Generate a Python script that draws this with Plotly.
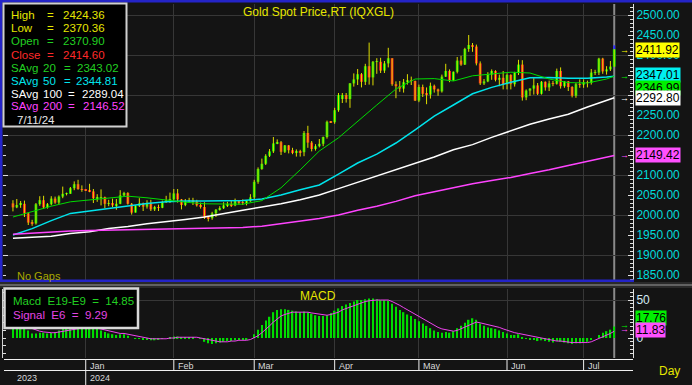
import plotly.graph_objects as go
import pandas as pd

W, H = 692, 385
def px(x):
    return x / W
def py(y):
    return 1 - y / H

FONT = "Liberation Sans, Arial, sans-serif"

# ---------------- data ----------------
dates = pd.bdate_range("2023-12-05", "2024-07-11")

opens = [
    # Dec
    2029, 2019, 2025, 2028, 2004, 1981, 1979, 2027, 2037, 2019, 2027, 2041, 2031, 2046, 2053, 2053, 2067, 2077, 2065,
    # Jan
    2063, 2062, 2059, 2042, 2043, 2045, 2028, 2030, 2024, 2028, 2049, 2055, 2028, 2006, 2023, 2029, 2021, 2029, 2014, 2020, 2018, 2032, 2037,
    # Feb
    2039, 2054, 2039, 2025, 2035, 2035, 2034, 2024, 2020, 1993, 1992, 2004, 2013, 2017, 2024, 2025, 2024, 2035, 2031, 2030, 2034,
    # Mar
    2044, 2083, 2115, 2128, 2148, 2159, 2179, 2182, 2158, 2174, 2162, 2155, 2160, 2157, 2205, 2181, 2165, 2172, 2178, 2195, 2233,
    # Apr
    2232, 2262, 2290, 2300, 2290, 2329, 2339, 2352, 2333, 2372, 2344, 2383, 2383, 2361, 2379, 2392, 2327, 2322, 2316, 2332, 2337, 2335,
    # May
    2286, 2320, 2303, 2301, 2323, 2314, 2309, 2346, 2360, 2336, 2358, 2386, 2376, 2415, 2425, 2421, 2379, 2329, 2334, 2351, 2360, 2338, 2343,
    # Jun
    2327, 2350, 2327, 2355, 2376, 2294, 2311, 2316, 2324, 2303, 2333, 2319, 2329, 2328, 2360, 2322, 2334, 2320, 2298, 2327,
    # Jul
    2326, 2332, 2330, 2356, 2356, 2391, 2359, 2364, 2370.90,
]
highs = [
    2037, 2040, 2035, 2036, 2007, 1988, 2030, 2047, 2048, 2030, 2047, 2046, 2049, 2071, 2056, 2070, 2084, 2088, 2074,
    2064, 2078, 2065, 2052, 2064, 2046, 2038, 2041, 2040, 2062, 2058, 2057, 2030, 2025, 2042, 2031, 2037, 2038, 2023, 2026, 2036, 2048, 2056,
    2065, 2065, 2040, 2040, 2043, 2043, 2038, 2031, 2032, 1996, 2008, 2015, 2022, 2032, 2033, 2035, 2041, 2037, 2039, 2037, 2052,
    2088, 2119, 2141, 2152, 2165, 2195, 2189, 2185, 2175, 2175, 2168, 2164, 2163, 2210, 2223, 2185, 2177, 2190, 2196, 2236, 2235,
    2268, 2305, 2305, 2305, 2330, 2354, 2365, 2355, 2378, 2431, 2385, 2392, 2393, 2385, 2418, 2392, 2334, 2335, 2340, 2352, 2346, 2336,
    2326, 2326, 2319, 2331, 2326, 2316, 2351, 2378, 2364, 2359, 2395, 2398, 2418, 2450, 2430, 2426, 2384, 2340, 2357, 2364, 2362, 2351, 2360,
    2354, 2352, 2358, 2388, 2387, 2314, 2317, 2342, 2330, 2335, 2334, 2336, 2335, 2366, 2369, 2335, 2335, 2322, 2330, 2339,
    2339, 2336, 2365, 2363, 2393, 2393, 2372, 2385, 2424.36,
]
lows = [
    2009, 2017, 2018, 1995, 1975, 1973, 1976, 2023, 2015, 2016, 2024, 2028, 2027, 2042, 2049, 2053, 2062, 2063, 2058,
    2060, 2057, 2030, 2033, 2024, 2017, 2022, 2020, 2013, 2027, 2047, 2026, 2001, 2006, 2020, 2010, 2016, 2010, 2010, 2010, 2017, 2030, 2030,
    2036, 2031, 2014, 2022, 2030, 2025, 2021, 2016, 1990, 1984, 1988, 1995, 2011, 2015, 2020, 2020, 2022, 2026, 2025, 2024, 2033,
    2038, 2078, 2113, 2125, 2145, 2155, 2177, 2150, 2155, 2154, 2152, 2146, 2146, 2147, 2168, 2159, 2161, 2169, 2172, 2191, 2230,
    2228, 2258, 2280, 2281, 2268, 2321, 2325, 2319, 2325, 2326, 2324, 2353, 2355, 2355, 2369, 2323, 2292, 2308, 2306, 2326, 2325, 2285,
    2282, 2295, 2277, 2291, 2306, 2298, 2306, 2345, 2332, 2336, 2354, 2373, 2375, 2408, 2408, 2374, 2325, 2325, 2332, 2338, 2334, 2322, 2314,
    2314, 2314, 2321, 2350, 2286, 2287, 2298, 2301, 2300, 2301, 2311, 2310, 2322, 2326, 2316, 2318, 2310, 2294, 2293, 2318,
    2318, 2319, 2326, 2350, 2350, 2353, 2351, 2360, 2370.36,
]
closes = [
    2019, 2025, 2028, 2004, 1981, 1979, 2027, 2037, 2019, 2027, 2041, 2031, 2046, 2053, 2053, 2067, 2077, 2065, 2063,
    2062, 2059, 2042, 2043, 2045, 2028, 2030, 2024, 2028, 2049, 2055, 2028, 2006, 2023, 2029, 2021, 2029, 2014, 2020, 2018, 2032, 2037, 2039,
    2054, 2039, 2025, 2035, 2035, 2034, 2024, 2020, 1993, 1992, 2004, 2013, 2017, 2024, 2025, 2024, 2035, 2031, 2030, 2034, 2044,
    2083, 2115, 2128, 2148, 2159, 2179, 2182, 2158, 2174, 2162, 2155, 2160, 2157, 2205, 2181, 2165, 2172, 2178, 2195, 2233, 2232,
    2262, 2300, 2300, 2290, 2329, 2339, 2352, 2333, 2372, 2344, 2383, 2383, 2361, 2379, 2392, 2327, 2322, 2316, 2332, 2337, 2335, 2286,
    2320, 2303, 2301, 2323, 2314, 2309, 2346, 2360, 2336, 2358, 2386, 2376, 2415, 2425, 2421, 2379, 2329, 2334, 2351, 2360, 2338, 2343, 2327,
    2350, 2327, 2355, 2376, 2294, 2311, 2316, 2324, 2303, 2333, 2319, 2329, 2328, 2360, 2322, 2334, 2320, 2298, 2327, 2326,
    2332, 2330, 2356, 2356, 2391, 2359, 2364, 2371, 2414.60,
]

sma_idx = [0, 5, 10, 15, 20, 25, 30, 35, 40, 45, 50, 55, 60, 65, 70, 75, 80, 85, 90, 95,
           100, 105, 110, 115, 120, 125, 130, 135, 140, 145, 150, 155, 157]
sma20 = [1995, 2008, 2022, 2033, 2038, 2043, 2047, 2043, 2037, 2032, 2028, 2027, 2027, 2036, 2068, 2113,
         2160, 2193, 2235, 2275, 2315, 2340, 2341, 2335, 2348, 2352, 2357, 2355, 2340, 2331, 2330, 2340, 2347]
sma50 = [1950, 1966, 1986, 2004, 2010, 2016, 2022, 2029, 2033, 2035, 2035, 2035, 2036, 2040, 2050, 2063,
         2075, 2102, 2130, 2152, 2180, 2213, 2247, 2275, 2303, 2319, 2332, 2343, 2344, 2342, 2342, 2345, 2347]
sma100 = [1942, 1944, 1947, 1954, 1958, 1966, 1971, 1978, 1983, 1989, 1995, 2004, 2012, 2020, 2028, 2038,
          2050, 2066, 2082, 2098, 2114, 2130, 2145, 2163, 2176, 2194, 2210, 2227, 2240, 2252, 2270, 2286, 2293]
sma200 = [1952, 1955, 1958, 1960, 1961, 1962, 1963, 1965, 1966, 1967, 1967, 1968, 1969, 1972, 1978, 1985,
          1991, 2000, 2012, 2022, 2034, 2048, 2058, 2068, 2078, 2086, 2094, 2104, 2113, 2124, 2134, 2145, 2149]

macd = [20, 19, 18, 15, 10,
        6, 6, 7, 7, 6, 7, 8,
        10, 12, 13, 14, 15, 16, 16, 15, 15, 14, 12,
        10, 8, 6, 5, 4, 5, 5,
        3, 0, -1, -1, -2, -2, -3, -3, -2, -1, 0, 1,
        2, 2, 1, 1, 1, 1, 0, -1,
        -5, -7, -8, -7, -6, -5,
        -4, -4, -3, -2, -2, -2, 0,
        5, 11, 17, 23, 28, 34, 37, 38,
        38, 37, 36, 35, 34, 35,
        34, 32, 30, 29, 29, 30, 33,
        36, 39, 42, 44, 46, 48, 50,
        50, 51, 52, 52, 51, 50, 50, 49, 45,
        41, 37, 34, 31, 29, 25, 22,
        19, 16, 13, 10, 8,
        7, 8, 7, 9, 13,
        16, 20, 24, 26, 24,
        19, 16, 14, 13, 12, 10, 8, 6, 4, 4,
        5, 1, -1, -2, -2,
        -4, -3, -4, -5, -6, -4, -5, -6, -7, -8, -7, -7, -6, -5,
        -2, 0, 4, 7, 9, 11, 15]
signal = [17, 17, 17, 16, 14,
          12, 10, 9, 8, 7, 7, 7,
          8, 9, 10, 11, 12, 13, 14, 14, 14, 14, 13,
          12, 11, 10, 8, 7, 6, 6,
          5, 4, 2, 1, 0, 0, -1, -1, -1, -1, -1, 0,
          0, 1, 1, 1, 1, 1, 1, 0,
          -1, -3, -4, -5, -5, -5,
          -5, -4, -4, -3, -3, -3, -2,
          0, 3, 7, 11, 16, 21, 25, 29,
          31, 33, 34, 34, 34, 34,
          34, 33, 32, 31, 30, 30, 31,
          32, 34, 37, 39, 41, 43, 45,
          47, 48, 49, 50, 50, 50, 50, 50, 48,
          46, 43, 40, 37, 34, 31, 28,
          25, 22, 19, 16, 14,
          12, 11, 10, 9, 10,
          12, 14, 17, 19, 21,
          20, 19, 18, 17, 15, 14, 12, 10, 8, 7,
          6, 5, 3, 2, 1,
          0, -1, -2, -3, -4, -4, -4, -5, -5, -6, -6, -6, -6, -6,
          -5, -3, -1, 1, 4, 6, 9]

legend_sma = [2343.02, 2344.81, 2289.04, 2146.52]
last_price = 2411.92
last_sma = [2346.99, 2347.01, 2292.80, 2149.42]
macd_legend = [14.85, 9.29]
macd_last = [17.76, 11.83]
price_ticks = [1850, 1900, 1950, 2000, 2050, 2100, 2150, 2200, 2250, 2300, 2350, 2400, 2450, 2500]
hidden_ticks = [2150, 2300, 2350]          # labels covered by the value boxes
month_names = ["Jan", "Feb", "Mar", "Apr", "May", "Jun", "Jul"]
year_labels = ["2023", "2024"]

n = len(dates)
assert len(opens) == n and len(highs) == n and len(lows) == n and len(closes) == n
assert len(macd) == n and len(signal) == n
idx = list(range(n))

# first bar of each month
month_idx = []
for k in range(1, n):
    if dates[k].month != dates[k - 1].month:
        month_idx.append(k)

# ---------------- colours ----------------
UP = "#00e400"
DOWN = "#ff1c1c"
WICK = "#dede00"
C20 = "#00dc00"
C50 = "#00e4ec"
C100 = "#ffffff"
C200 = "#ff44ff"
GRID = "#373737"
BG = "#141414"
YEL = "#e6e600"

fig = go.Figure()

# wicks
wx, wy = [], []
for i in idx:
    wx += [i, i, None]
    wy += [lows[i], highs[i], None]
fig.add_trace(go.Scatter(x=wx, y=wy, mode="lines", line=dict(color=WICK, width=1),
                         hoverinfo="skip", xaxis="x", yaxis="y"))
# bodies
bases = [min(o, c) for o, c in zip(opens, closes)]
hgts = [max(abs(c - o), 1.5) for o, c in zip(opens, closes)]
cols = [UP if c >= o else DOWN for o, c in zip(opens, closes)]
fig.add_trace(go.Bar(x=idx, y=hgts, base=bases, width=0.72,
                     marker=dict(color=cols, line=dict(width=0)),
                     customdata=[d.strftime("%m/%d/%y") for d in dates],
                     hovertemplate="%{customdata}<extra></extra>",
                     xaxis="x", yaxis="y"))
# real-time part of the last bar (above the close) in blue
fig.add_trace(go.Scatter(x=[idx[-1], idx[-1]], y=[closes[-1], highs[-1]], mode="lines",
                         line=dict(color="#2a2aff", width=2), hoverinfo="skip", xaxis="x", yaxis="y"))

# moving averages
fig.add_trace(go.Scatter(x=sma_idx, y=sma200, mode="lines", line=dict(color=C200, width=1.5),
                         xaxis="x", yaxis="y3", hoverinfo="skip"))
fig.add_trace(go.Scatter(x=sma_idx, y=sma100, mode="lines", line=dict(color=C100, width=1.5),
                         xaxis="x", yaxis="y", hoverinfo="skip"))
fig.add_trace(go.Scatter(x=sma_idx, y=sma50, mode="lines", line=dict(color=C50, width=1.5),
                         xaxis="x", yaxis="y", hoverinfo="skip"))
fig.add_trace(go.Scatter(x=sma_idx, y=sma20, mode="lines", line=dict(color=C20, width=1),
                         xaxis="x", yaxis="y", hoverinfo="skip"))

# MACD panel
fig.add_trace(go.Bar(x=idx, y=macd, width=0.38, marker=dict(color="#00dc00", line=dict(width=0)),
                     xaxis="x2", yaxis="y2", hoverinfo="skip"))
fig.add_trace(go.Scatter(x=idx, y=signal, mode="lines", line=dict(color="#ee44ee", width=1),
                         xaxis="x2", yaxis="y4", hoverinfo="skip"))

XR = [-2.6, 161.9]
XD = [px(3), px(633)]
YR_MAIN = [1835, 2527.5]
YR_MACD = [-26.3, 64.5]
tickfont = dict(family=FONT, size=12, color="#00dcdc")
tick_text = ["" if v in hidden_ticks else f"{v:.2f}" for v in price_ticks]

fig.update_layout(
    width=W, height=H, margin=dict(l=0, r=0, t=0, b=0),
    paper_bgcolor=BG, plot_bgcolor=BG, showlegend=False, barmode="overlay",
    xaxis=dict(domain=XD, range=XR, anchor="y", tickmode="array", tickvals=month_idx,
               showticklabels=False, ticks="", showgrid=True, gridcolor=GRID, gridwidth=1,
               zeroline=False, showline=False),
    yaxis=dict(domain=[py(281), py(4)], range=YR_MAIN, anchor="x", side="right",
               tickmode="array", tickvals=price_ticks, ticktext=tick_text, tickfont=tickfont,
               ticks="inside", ticklen=5, tickcolor="#e0e0e0", showline=True, linecolor="#e0e0e0",
               linewidth=1, showgrid=False, zeroline=False,
               minor=dict(tickmode="linear", tick0=1850, dtick=10, ticks="inside", ticklen=3,
                          tickcolor="#e0e0e0", showgrid=False)),
    yaxis3=dict(overlaying="y", anchor="x", side="left", range=YR_MAIN, tickmode="linear",
                tick0=1800, dtick=100, showticklabels=False, ticks="inside", ticklen=5,
                tickcolor="#e0e0e0", showgrid=True, gridcolor=GRID, zeroline=False, showline=False,
                minor=dict(tickmode="linear", tick0=1800, dtick=25, ticks="inside", ticklen=3,
                           tickcolor="#e0e0e0", showgrid=False)),
    xaxis2=dict(domain=XD, range=XR, anchor="y2", tickmode="array", tickvals=month_idx,
                showticklabels=False, ticks="", showgrid=True, gridcolor=GRID,
                zeroline=False, showline=False),
    yaxis2=dict(domain=[py(358), py(289)], range=YR_MACD, anchor="x2", side="right",
                tickmode="array", tickvals=[0, 50], ticktext=["0", "50"],
                tickfont=dict(family=FONT, size=12, color="#d4eaf4"),
                ticks="inside", ticklen=5, tickcolor="#e0e0e0", showline=True, linecolor="#e0e0e0",
                showgrid=False, zeroline=False,
                minor=dict(tickmode="linear", tick0=0, dtick=5, ticks="inside", ticklen=3,
                           tickcolor="#e0e0e0", showgrid=False)),
    yaxis4=dict(overlaying="y2", anchor="x2", side="left", range=YR_MACD, tickmode="array",
                tickvals=[50], showticklabels=False, ticks="inside", ticklen=4, tickcolor="#e0e0e0",
                showgrid=True, gridcolor=GRID, zeroline=False, showline=True, linecolor="#d0d0d0",
                minor=dict(tickmode="linear", tick0=0, dtick=10, ticks="inside", ticklen=3,
                           tickcolor="#e0e0e0", showgrid=False)),
)

shapes = []
def rect(x0, y0, x1, y1, fill, line=None, lw=0, layer="above"):
    shapes.append(dict(type="rect", xref="paper", yref="paper", x0=px(x0), x1=px(x1),
                       y0=py(y0), y1=py(y1), fillcolor=fill,
                       line=dict(color=line or fill, width=lw), layer=layer))
def hline(x0, x1, y, color, w=1):
    shapes.append(dict(type="line", xref="paper", yref="paper", x0=px(x0), x1=px(x1),
                       y0=py(y), y1=py(y), line=dict(color=color, width=w), layer="above"))

# cursor line at last bar
shapes.append(dict(type="line", xref="x", yref="paper", x0=idx[-1], x1=idx[-1],
                   y0=py(358), y1=py(4), line=dict(color="#8a8a8a", width=2), layer="below"))
# blue frame of price panel
rect(0, 0, W, 2.5, "#2424c8")
rect(0, 0, 2.5, 282, "#2424c8")
rect(0, 279.5, 634, 282, "#2424c8")
# separator between panels
rect(0, 282, W, 288, "#2a2a2a")
hline(0, W, 285, "#9a9a9a", 1)
# legend boxes
rect(3.5, 3.5, 126.5, 126.5, "#000000", "#d0d0d0", 2)
rect(4.5, 288.5, 138, 328, "#000000", "#d8d8d8", 2.5)
# date strip
hline(4, 633, 359.5, "#f0f0f0", 1)
hline(4, 633, 370.5, "#f0f0f0", 1)
for k, m in enumerate(month_idx):
    y_bottom = 385 if k == 0 else 370.5
    shapes.append(dict(type="line", xref="x2", yref="paper", x0=m, x1=m, y0=py(y_bottom), y1=py(359.5),
                       line=dict(color="#f0f0f0", width=1), layer="above"))
fig.update_layout(shapes=shapes)

ann = []
def text(x, y, s, color, size=12, anchor="left", xref="paper", xshift=0, yref="paper", yshift=0,
         bg=None):
    d = dict(x=x if xref != "paper" else px(x), y=y if yref != "paper" else py(y), xref=xref, yref=yref,
             text=s, showarrow=False, xanchor=anchor, yanchor="middle", xshift=xshift, yshift=yshift,
             font=dict(family=FONT, size=size, color=color))
    if bg:
        d.update(bgcolor=bg, borderpad=0)
    ann.append(d)

# title etc.
text(318, 12, "Gold Spot Price,RT (IQXGL)", YEL, 12, "center")
text(318, 296, "MACD", YEL, 12, "center")
text(15, 275.5, "No Gaps", "#a8a800", 11)
text(657, 371, "Day", YEL, 12)

# price legend
GREEN_T = "#22d022"
LS = 11.5
rows = [("High", highs[-1], YEL, 50.5, 61), ("Low", lows[-1], YEL, 50.5, 61),
        ("Open", opens[-1], GREEN_T, 50.5, 61), ("Close", closes[-1], "#ff2a2a", 50.5, 61)]
for r, (lab, val, col, xe, xv) in enumerate(rows):
    yy = 15.5 + 13 * r
    text(9, yy, lab, col, LS)
    text(xe, yy, "=", col, LS, "center")
    text(xv, yy, f"{val:.2f}", col, LS)
sma_rows = [("20", GREEN_T, 67, 75), ("50", C50, 67, 74),
            ("100", "#ffffff", 71, 80), ("200", C200, 71, 81)]
for r, ((num, col, xe, xv), val) in enumerate(zip(sma_rows, legend_sma)):
    yy = 15.5 + 13 * (r + 4)
    text(9, yy, "SAvg", col, LS)
    text(41, yy, num, col, LS)
    text(xe, yy, "=", col, LS, "center")
    text(xv, yy, f"{val:.2f}", col, LS)
text(15, 119.5, dates[-1].strftime("%-m/%d/%y"), "#e8e8e8", LS)

# MACD legend
text(11, 301, f"Macd  E19-E9  =  {macd_legend[0]:.2f}", GREEN_T, 11.5)
text(11, 315, f"Signal  E6  =  {macd_legend[1]:.2f}", "#e444e4", 11.5)

# right-side value boxes
boxes = [(last_price, "#ffff00", 0), (last_sma[1], "#00f0f0", 1),
         (last_sma[0], "#00f000", -11.5), (last_sma[2], "#ffffff", 0), (last_sma[3], "#ff50ff", 0)]
for val, bg, ys in boxes:
    text(635, val, f"{val:.2f}", "#000000", 12, yref="y", yshift=ys, bg=bg)
for val, col in [(last_price, "#ffff00"), (last_sma[0], "#00f000"), (last_sma[2], "#ffffff"),
                 (last_sma[3], "#ff50ff")]:
    text(624, val, "→", col, 9, "center", yref="y")
for val, bg, ys in [(macd_last[0], "#00f000", 6.5), (macd_last[1], "#ff50ff", -1)]:
    text(635, val, f"{val:.2f}", "#000000", 12, yref="y2", yshift=ys, bg=bg)
for val, col in [(macd_last[0], "#00f000"), (macd_last[1], "#ff50ff")]:
    text(624, val, "→", col, 9, "center", yref="y2")

# date strip labels
for m, name in zip(month_idx, month_names):
    text(m, 365.5, name, "#d8d8d8", 9, "left", xref="x2", xshift=2)
text(15, 377.5, year_labels[0], "#d8d8d8", 9)
text(month_idx[0], 377.5, year_labels[1], "#d8d8d8", 9, "left", xref="x2", xshift=2)

fig.update_layout(annotations=ann)
fig.write_html("out.html")
